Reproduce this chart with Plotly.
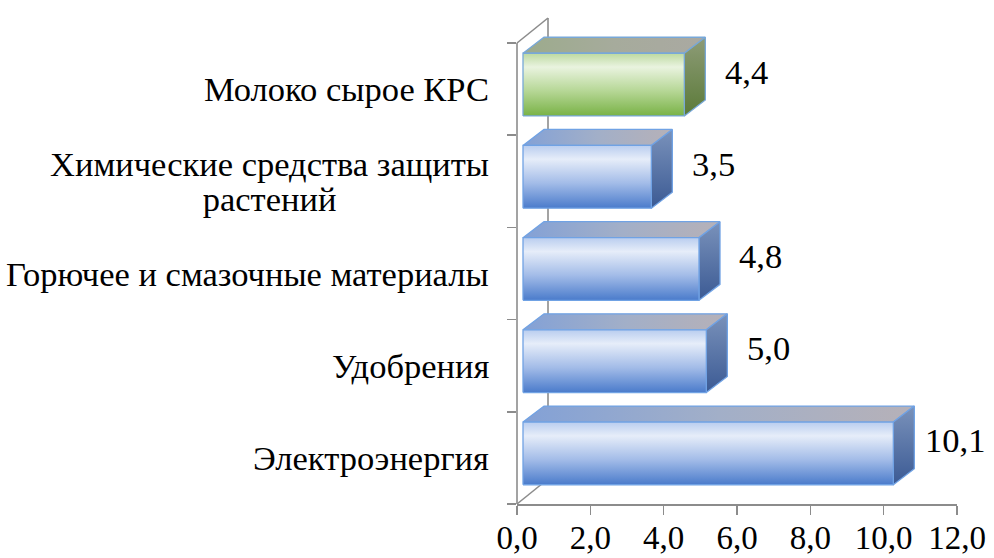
import plotly.graph_objects as go

# ---------------- data ----------------
categories = [
    "Электроэнергия",
    "Удобрения",
    "Горючее и смазочные материалы",
    "Химические средства защиты<br>растений",
    "Молоко сырое КРС",
]
values = [10.1, 5.0, 4.8, 3.5, 4.4]
value_labels = ["10,1", "5,0", "4,8", "3,5", "4,4"]
bar_colors = ["blue", "blue", "blue", "blue", "green"]
x_tick_values = [0, 2, 4, 6, 8, 10, 12]
x_tick_labels = ["0,0", "2,0", "4,0", "6,0", "8,0", "10,0", "12,0"]

# ---------------- geometry / style ----------------
W, H = 994, 558
M_L, M_R, M_B, M_T = 517, 37, 54, 12
CAT_TOP_PX = 43                      # pixel of top category boundary
X_MAX = 12
plot_w = W - M_L - M_R
plot_h = H - M_T - M_B
px_x = plot_w / X_MAX                 # px per x unit
px_y = (H - M_B - CAT_TOP_PX) / len(categories)   # px per category
Y_MIN = -0.5
Y_MAX = Y_MIN + plot_h / px_y

# 3D depth (pixel offsets converted to data units)
WALL_DX, WALL_DY = 31 / px_x, 25 / px_y
FRONT_DX, FRONT_DY = 6 / px_x, 4.5 / px_y
BAR_DX, BAR_DY = 21 / px_x, 16 / px_y
BAR_H = 0.68

FONT = "Liberation Serif, Times New Roman, serif"
FS = 34.5
TICK_FS = 33
LINE_GAP = 35          # px between lines of a wrapped category label
AXIS_COLOR = "#8c8c8c"

PALETTE = {
    "blue": dict(
        front=[[0, "#4a7bcb"], [0.4, "#a3bce8"], [0.78, "#e6edf9"], [1, "#b9cdef"]],
        top=[[0, "#83a1d6"], [0.5, "#a2afc8"], [1, "#b6b1b8"]],
        side=[[0, "#3b5a94"], [1, "#7a92bb"]],
        line="#70a2e4",
    ),
    "green": dict(
        front=[[0, "#79b246"], [0.4, "#b6d796"], [0.78, "#e9f3df"], [1, "#bcd9a0"]],
        top=[[0, "#9cab8c"], [0.5, "#a6ab9c"], [1, "#aaa9a2"]],
        side=[[0, "#5b7a38"], [1, "#8e9c78"]],
        line="#78a8d8",
    ),
}


def yd(v):
    return (v - Y_MIN) / (Y_MAX - Y_MIN)


def xd(v):
    return v / X_MAX


fig = go.Figure()

for i, (v, kind) in enumerate(zip(values, bar_colors)):
    pal = PALETTE[kind]
    x0 = FRONT_DX
    x1 = v + FRONT_DX
    yb = i + FRONT_DY - BAR_H / 2
    yt = i + FRONT_DY + BAR_H / 2
    faces = [
        # top face
        ([x0, x1, x1 + BAR_DX, x0 + BAR_DX, x0],
         [yt, yt, yt + BAR_DY, yt + BAR_DY, yt], "horizontal", pal["top"]),
        # side face
        ([x1, x1 + BAR_DX, x1 + BAR_DX, x1, x1],
         [yb, yb + BAR_DY, yt + BAR_DY, yt, yb], "vertical", pal["side"]),
        # front face
        ([x0, x1, x1, x0, x0],
         [yb, yb, yt, yt, yb], "vertical", pal["front"]),
    ]
    for xs, ys, gtype, cs in faces:
        fig.add_trace(go.Scatter(
            x=xs, y=ys, mode="lines", fill="toself",
            fillgradient=dict(type=gtype, colorscale=cs),
            line=dict(color=pal["line"], width=1.3),
            hoverinfo="skip", showlegend=False,
        ))

# value labels
for i, (v, lab) in enumerate(zip(values, value_labels)):
    fig.add_annotation(
        x=v + 1.85, y=i + 0.19, xref="x", yref="y", text=lab,
        showarrow=False, xanchor="center", yanchor="middle",
        font=dict(family=FONT, size=FS, color="black"),
    )

# category labels
for i, cat in enumerate(categories):
    lines = cat.split("<br>")
    if len(lines) > 1:
        text = "<br>".join(
            f"<span style='font-size:{FS}px'>{ln}</span>" for ln in lines)
        size = LINE_GAP / 1.3
    else:
        text, size = cat, FS
    fig.add_annotation(
        x=0, y=i, xref="paper", yref="y", text=text,
        showarrow=False, xanchor="right", yanchor="middle", align="center",
        xshift=-26,
        font=dict(family=FONT, size=size, color="black"),
    )

# walls / axis lines
line_style = dict(color=AXIS_COLOR, width=1.6)
n = len(categories)
y_lo, y_hi = -0.5, n - 0.5
segments = [
    (0, y_lo, 0, y_hi),                                   # front y axis
    (0, y_hi, WALL_DX, y_hi + WALL_DY),                   # top diagonal
    (WALL_DX, y_lo + WALL_DY, WALL_DX, y_hi + WALL_DY),   # back wall edge
    (0, y_lo, WALL_DX, y_lo + WALL_DY),                   # floor diagonal
]
for xa, ya, xb, yb_ in segments:
    fig.add_shape(
        type="line", xref="x domain", yref="y domain",
        x0=xd(xa), y0=yd(ya), x1=xd(xb), y1=yd(yb_),
        line=line_style, layer="below",
    )

fig.update_layout(
    width=W, height=H,
    margin=dict(l=M_L, r=M_R, t=M_T, b=M_B, pad=0),
    paper_bgcolor="white", plot_bgcolor="white",
    showlegend=False,
    font=dict(family=FONT, size=FS, color="black"),
    xaxis=dict(
        range=[0, X_MAX], tickvals=x_tick_values, ticktext=x_tick_labels,
        showline=True, linecolor=AXIS_COLOR, linewidth=1.6,
        ticks="outside", ticklen=9, tickwidth=1.6, tickcolor=AXIS_COLOR,
        ticklabelstandoff=-5,
        showgrid=False, zeroline=False, fixedrange=True, automargin=False,
        tickfont=dict(family=FONT, size=TICK_FS, color="black"),
    ),
    yaxis=dict(
        range=[Y_MIN, Y_MAX],
        tickvals=[k - 0.5 for k in range(n + 1)],
        showticklabels=False,
        showline=False,
        ticks="outside", ticklen=9, tickwidth=1.6, tickcolor=AXIS_COLOR,
        showgrid=False, zeroline=False, fixedrange=True, automargin=False,
    ),
)

fig.write_html(
    "out.html",
    config={"displayModeBar": False, "staticPlot": True},
    post_script="document.body.style.margin='0';document.body.style.padding='0';",
)
